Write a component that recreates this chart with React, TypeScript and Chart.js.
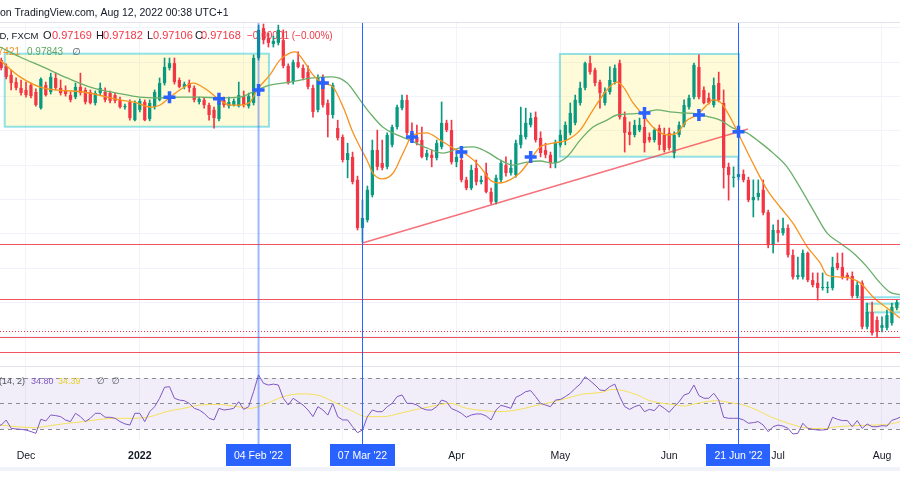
import React, { useEffect, useRef } from 'react';
import { Chart, registerables } from 'chart.js';

Chart.register(...registerables);

const FONT = '"Liberation Sans", Arial, "DejaVu Sans", sans-serif';
const UP = '#089981';
const DOWN = '#f23645';

// Daily weekday bars, bar 0 = 23 Nov 2021 ... bar 183 = 05 Aug 2022
const opens = [
  1.0511,1.0505,1.0488,1.0462,1.0441,1.0424,1.0418,1.0432,1.0412,1.0365,
  1.0432,1.0412,1.0453,1.0424,1.0418,1.0403,1.0397,1.0427,1.0418,1.0412,
  1.0380,1.0409,1.0412,1.0409,1.0403,1.0389,1.0368,1.0383,1.0330,1.0360,
  1.0383,1.0333,1.0368,1.0389,1.0438,1.0482,1.0496,1.0447,1.0427,1.0438,
  1.0424,1.0383,1.0389,1.0374,1.0360,1.0333,1.0389,1.0371,1.0374,1.0371,
  1.0400,1.0371,1.0380,1.0511,1.0598,1.0569,1.0552,1.0555,1.0563,1.0488,
  1.0441,1.0499,1.0482,1.0470,1.0424,1.0360,1.0447,1.0380,1.0345,1.0307,
  1.0281,1.0214,1.0223,1.0156,1.0016,1.0039,1.0112,1.0243,1.0205,1.0194,
  1.0258,1.0310,1.0365,1.0389,1.0293,1.0281,1.0272,1.0223,1.0229,1.0220,
  1.0252,1.0322,1.0301,1.0208,1.0214,1.0156,1.0132,1.0191,1.0150,1.0176,
  1.0121,1.0092,1.0156,1.0199,1.0176,1.0170,1.0258,1.0281,1.0316,1.0339,
  1.0278,1.0243,1.0229,1.0205,1.0258,1.0272,1.0293,1.0322,1.0380,1.0424,
  1.0496,1.0476,1.0441,1.0380,1.0412,1.0441,1.0496,1.0339,1.0296,1.0287,
  1.0301,1.0310,1.0281,1.0272,1.0307,1.0287,1.0293,1.0234,1.0287,1.0316,
  1.0368,1.0397,1.0485,1.0418,1.0395,1.0374,1.0438,1.0380,1.0194,1.0162,
  1.0164,1.0173,1.0156,1.0097,1.0106,1.0127,1.0062,0.9966,1.0010,1.0001,
  1.0016,0.9937,0.9873,0.9873,0.9943,0.9864,0.9856,0.9841,0.9841,0.9841,
  0.9914,0.9902,0.9879,0.9876,0.9818,0.9856,0.9728,0.9771,0.9748,0.9725,
  0.9725,0.9739,0.9783,0.9800,
];
const highs = [
  1.0520,1.0511,1.0494,1.0476,1.0453,1.0447,1.0441,1.0438,1.0421,1.0453,
  1.0441,1.0467,1.0467,1.0447,1.0430,1.0412,1.0438,1.0467,1.0424,1.0418,
  1.0415,1.0438,1.0424,1.0415,1.0409,1.0397,1.0377,1.0389,1.0386,1.0392,
  1.0389,1.0389,1.0418,1.0453,1.0511,1.0511,1.0511,1.0453,1.0441,1.0447,
  1.0430,1.0397,1.0395,1.0380,1.0368,1.0389,1.0397,1.0397,1.0392,1.0441,
  1.0415,1.0409,1.0520,1.0607,1.0610,1.0584,1.0575,1.0607,1.0593,1.0494,
  1.0505,1.0529,1.0491,1.0488,1.0432,1.0462,1.0462,1.0389,1.0438,1.0330,
  1.0287,1.0263,1.0237,1.0167,1.0097,1.0138,1.0272,1.0301,1.0272,1.0293,
  1.0316,1.0374,1.0403,1.0403,1.0322,1.0316,1.0310,1.0243,1.0243,1.0272,
  1.0383,1.0330,1.0330,1.0234,1.0243,1.0164,1.0199,1.0214,1.0167,1.0205,
  1.0132,1.0170,1.0214,1.0223,1.0214,1.0272,1.0368,1.0365,1.0351,1.0354,
  1.0296,1.0263,1.0237,1.0272,1.0301,1.0325,1.0380,1.0403,1.0441,1.0499,
  1.0517,1.0482,1.0447,1.0424,1.0485,1.0491,1.0505,1.0354,1.0325,1.0330,
  1.0336,1.0360,1.0293,1.0307,1.0316,1.0307,1.0307,1.0296,1.0325,1.0389,
  1.0403,1.0496,1.0520,1.0427,1.0409,1.0453,1.0470,1.0418,1.0205,1.0194,
  1.0220,1.0185,1.0164,1.0156,1.0156,1.0156,1.0068,1.0025,1.0039,1.0045,
  1.0025,0.9952,0.9931,0.9952,0.9946,0.9885,0.9885,0.9885,0.9859,0.9931,
  0.9943,0.9943,0.9885,0.9888,0.9859,0.9862,0.9797,0.9800,0.9757,0.9757,
  0.9777,0.9797,0.9806,0.9812,
];
const lows = [
  1.0499,1.0476,1.0450,1.0418,1.0418,1.0403,1.0397,1.0395,1.0371,1.0362,
  1.0400,1.0406,1.0418,1.0403,1.0400,1.0383,1.0392,1.0403,1.0377,1.0377,
  1.0374,1.0403,1.0383,1.0380,1.0380,1.0365,1.0362,1.0330,1.0328,1.0354,
  1.0328,1.0328,1.0362,1.0386,1.0432,1.0476,1.0435,1.0424,1.0421,1.0412,
  1.0383,1.0377,1.0365,1.0330,1.0307,1.0328,1.0368,1.0365,1.0371,1.0368,
  1.0368,1.0365,1.0374,1.0505,1.0552,1.0543,1.0543,1.0549,1.0482,1.0435,
  1.0435,1.0482,1.0447,1.0421,1.0339,1.0354,1.0368,1.0281,1.0336,1.0272,
  1.0208,1.0162,1.0144,1.0010,0.9975,1.0033,1.0106,1.0185,1.0185,1.0188,
  1.0252,1.0304,1.0360,1.0287,1.0269,1.0258,1.0220,1.0214,1.0194,1.0214,
  1.0246,1.0296,1.0202,1.0194,1.0150,1.0127,1.0127,1.0141,1.0144,1.0118,
  1.0086,1.0086,1.0150,1.0167,1.0170,1.0164,1.0249,1.0275,1.0310,1.0266,
  1.0223,1.0220,1.0191,1.0191,1.0252,1.0258,1.0287,1.0316,1.0374,1.0418,
  1.0464,1.0430,1.0365,1.0374,1.0406,1.0435,1.0333,1.0237,1.0258,1.0281,
  1.0296,1.0237,1.0266,1.0266,1.0243,1.0237,1.0243,1.0220,1.0281,1.0310,
  1.0362,1.0392,1.0392,1.0377,1.0377,1.0368,1.0383,1.0132,1.0097,1.0135,
  1.0156,1.0150,1.0092,1.0048,1.0097,1.0054,0.9958,0.9943,0.9975,0.9995,
  0.9931,0.9867,0.9867,0.9867,0.9859,0.9844,0.9806,0.9835,0.9827,0.9835,
  0.9894,0.9867,0.9864,0.9812,0.9812,0.9722,0.9722,0.9704,0.9698,0.9713,
  0.9719,0.9733,0.9777,0.9771,
];
const closes = [
  1.0505,1.0482,1.0456,1.0438,1.0424,1.0409,1.0403,1.0400,1.0374,1.0450,
  1.0403,1.0456,1.0424,1.0409,1.0406,1.0389,1.0427,1.0409,1.0383,1.0380,
  1.0409,1.0424,1.0389,1.0386,1.0386,1.0368,1.0371,1.0336,1.0380,1.0386,
  1.0330,1.0380,1.0412,1.0438,1.0485,1.0496,1.0441,1.0427,1.0435,1.0424,
  1.0389,1.0392,1.0374,1.0345,1.0336,1.0383,1.0374,1.0383,1.0386,1.0403,
  1.0374,1.0400,1.0511,1.0593,1.0563,1.0555,1.0561,1.0593,1.0488,1.0438,
  1.0499,1.0485,1.0453,1.0427,1.0354,1.0453,1.0374,1.0345,1.0432,1.0278,
  1.0214,1.0234,1.0150,1.0016,1.0045,1.0127,1.0243,1.0194,1.0191,1.0287,
  1.0310,1.0368,1.0389,1.0293,1.0272,1.0266,1.0223,1.0234,1.0220,1.0263,
  1.0322,1.0301,1.0208,1.0223,1.0156,1.0132,1.0185,1.0150,1.0156,1.0121,
  1.0092,1.0162,1.0205,1.0176,1.0191,1.0263,1.0287,1.0322,1.0336,1.0272,
  1.0234,1.0229,1.0205,1.0266,1.0287,1.0316,1.0351,1.0389,1.0424,1.0496,
  1.0470,1.0438,1.0409,1.0412,1.0447,1.0482,1.0339,1.0293,1.0287,1.0316,
  1.0316,1.0263,1.0272,1.0301,1.0258,1.0243,1.0249,1.0287,1.0316,1.0374,
  1.0395,1.0491,1.0397,1.0380,1.0380,1.0432,1.0389,1.0191,1.0170,1.0164,
  1.0173,1.0156,1.0097,1.0106,1.0118,1.0060,0.9966,1.0010,1.0001,1.0016,
  0.9937,0.9873,0.9879,0.9943,0.9864,0.9850,0.9841,0.9844,0.9844,0.9902,
  0.9899,0.9873,0.9873,0.9818,0.9850,0.9728,0.9771,0.9710,0.9713,0.9733,
  0.9762,0.9786,0.9800,0.9783,
];

const fastMaBars = [0.75,4.8,9.4,17.5,25,27.6,31.5,33.1,35.1,37.1,39.8,42.6,44.6,47.2,49.2,51.3,52.7,55.3,57.3,59.4,60.4,62,64,66,68,70.1,72.1,73.5,74.9,76.1,78,80.2,82.2,84.2,87,89.7,92.3,95.1,97.8,99.8,101.8,103.8,105.8,107.9,109.9,112.5,115.3,118,120.6,123.4,125.4,126.7,128.7,130.7,132.7,135.5,137.6,139.6,141.6,143.6,144.8,146.3,148.3,150.3,152.9,155.8,158.4,161,163.9,166.5,167.9,170.5,172.5,174.6,177.2,180,182.6];
const fastMaValues = [1.0505,1.0456,1.0424,1.0412,1.0389,1.0383,1.0368,1.0374,1.0397,1.0418,1.0438,1.0418,1.0395,1.0374,1.0374,1.0383,1.0418,1.0462,1.0505,1.0526,1.0529,1.0505,1.0462,1.0438,1.0427,1.0368,1.0293,1.0252,1.0214,1.0176,1.0159,1.0176,1.0234,1.0287,1.0293,1.0272,1.0249,1.0229,1.0194,1.0156,1.0147,1.0156,1.0176,1.0214,1.0252,1.0263,1.0272,1.0301,1.0360,1.0418,1.0441,1.0427,1.0380,1.0345,1.0310,1.0287,1.0293,1.0330,1.0345,1.0374,1.0389,1.0383,1.0339,1.0281,1.0205,1.0127,1.0077,1.0030,0.9961,0.9914,0.9879,0.9873,0.9870,0.9856,0.9815,0.9783,0.9754];
const slowMaBars = [0.75,4.8,9.4,14.3,19.5,24.4,29,33.1,37.1,41.2,45.2,49.2,52.7,55.3,59.4,64,68,70.9,73.5,75.5,78.1,81,83.6,87,90.3,93.7,96.3,99.2,101.8,104.4,107.3,109.9,112.5,115.3,118,120.6,123.4,125.4,128.1,130.7,133.5,136.1,138.8,141.6,144.2,146.3,148.9,151.7,154.3,157,159.8,162.4,165.1,167.9,170.5,173.2,176,178.6,180.6,182.6];
const slowMaValues = [1.0543,1.0514,1.0485,1.0453,1.0424,1.0409,1.0397,1.0395,1.0397,1.0397,1.0395,1.0397,1.0418,1.0432,1.0441,1.0453,1.0456,1.0438,1.0389,1.0351,1.0310,1.0287,1.0272,1.0249,1.0234,1.0249,1.0252,1.0237,1.0214,1.0199,1.0208,1.0211,1.0205,1.0223,1.0272,1.0310,1.0330,1.0345,1.0348,1.0351,1.0360,1.0354,1.0351,1.0348,1.0339,1.0330,1.0307,1.0293,1.0266,1.0234,1.0194,1.0135,1.0068,1.0001,0.9972,0.9943,0.9902,0.9856,0.9829,0.9821];

// RSI per bar and its moving average
const rsiValues = [
  33,33.1,37,30.5,30,29.7,29.2,28,26.6,37.6,
  36.3,41,40.5,39.7,37,35.8,42.3,39.7,35.8,38.4,
  42.3,42.3,39.2,39.2,38.4,35.8,34,33.1,42.3,42.3,
  35.8,43.6,47.5,54.1,62.7,63.2,54.1,52.7,52.2,50.1,
  46.2,44.9,42.3,38.4,37.1,46.2,44.9,45.4,46.2,51.4,
  45.4,47.5,59.3,72.4,65.8,64.5,65.2,64.5,54.1,48.8,
  54.1,51.4,48.8,44.9,39.7,47.5,44.9,40.9,50,39.7,
  37.1,37.1,31.8,27.1,29.2,39.7,44.9,43.6,43.6,47.5,
  50.1,55.4,56.7,50.1,50.1,48.8,46.2,44.9,44.9,47.5,
  52.7,51.4,46,44.4,42.3,39.2,41,41.8,41.8,40.2,
  37.1,44.9,48.6,47.5,46.2,54.8,56.7,59.3,60.1,55.4,
  50.1,48.8,47.5,52.7,53.2,55.4,58,61.9,65.2,71,
  67.9,64.5,60.6,60.1,63.2,65.2,55.4,47.5,45.4,47.5,
  48.8,43.6,45.4,44.4,48.8,46.2,43.1,47.5,51.4,56.7,
  58,64.5,56.2,54.1,54.1,58,52.7,39.2,38.4,38.4,
  38.4,37.1,34.5,35,35.8,33.1,27.9,31.8,33.1,32.3,
  30.5,26.1,26.6,34.5,30.5,29.7,29.2,29.2,29.7,39.2,
  37.6,36.6,36.6,31.8,36.6,30.5,33.9,31.8,31.8,32.6,
  32.3,36.8,38.1,39.9,
];
const rsiMaBars = [0.7,4.1,7.5,10.9,14.2,17.6,21,24.3,27.7,31.1,34.4,37.8,41.2,44.5,47.9,51.3,54.7,58,61.4,64.8,68.1,71.5,74.9,78.2,81.6,85,88.3,91.7,95.1,98.5,101.8,105.2,108.6,111.9,115.3,118.7,122,124.7,126.7,129.5,132.1,134.8,137.5,138.9,141.6,145.6,148.3,151,153.7,156.4,159.1,161.8,164.5,167.2,169.9,172.6,175.3,178,180.7,182.7];
const rsiMaValues = [33.1,31.8,31,32.6,34.4,35.8,37.6,38.4,38.4,39.7,43.6,46.2,48.8,49.3,48,46.2,50.1,55.4,57.5,56.7,51.4,44.9,39.7,39.7,42.3,45.4,48,50.1,46.2,44.4,43.6,44.9,48,50.7,54.1,57.5,58.5,61.1,60.1,56.7,52.2,50.1,48.8,48,50.1,52.2,50.7,48.8,44.9,39.7,35.8,32.4,30.5,30.3,31.8,32.4,32.9,33.1,33.9,35.8];
const rsiLevels = [70, 50, 30];

// Crossover markers
const crossBars = [35, 45, 53, 66, 84, 94, 108, 131, 142, 150];
const crossPrices = [1.0397, 1.0392, 1.0418, 1.0438, 1.0281, 1.0237, 1.0223, 1.0351, 1.0345, 1.0296];

// Axis ticks
const monthTickBars = [6, 29, 50, 70, 93, 114, 136, 158, 179];
const monthTickLabels = ['Dec', '2022', 'Feb', 'Mar', 'Apr', 'May', 'Jun', 'Jul', 'Aug'];
const priceGridLevels = [0.97, 0.98, 0.99, 1.0, 1.01, 1.02, 1.03, 1.04, 1.05, 1.06];

// Drawings
const eventBars = [53, 74, 150];
const eventLabels = ["04 Feb '22", "07 Mar '22", "21 Jun '22"];
const levelPrices = [0.99692, 0.9809, 0.96983, 0.96546];
const lastPrice = 0.97168;
const trendBars = [74, 151.9];
const trendPrices = [0.99721, 1.03042];
const boxFromBars = [1.7, 113.9, 175.8];
const boxToBars = [55.1, 150.1, 200];
const boxTopPrices = [1.05236, 1.05227, 0.97953];
const boxBottomPrices = [1.03109, 1.02235, 0.9770];
const segmentFromBars = [173.9];
const segmentPrices = [0.9814];

const PRICE_PANE_BOTTOM = 366;

function hLine(ctx: CanvasRenderingContext2D, x0: number, x1: number, y: number) {
  ctx.beginPath();
  ctx.moveTo(x0, y);
  ctx.lineTo(x1, y);
  ctx.stroke();
}

function txt(ctx: CanvasRenderingContext2D, s: string, x: number, y: number, color: string, align: CanvasTextAlign = 'left') {
  ctx.fillStyle = color;
  ctx.textAlign = align;
  ctx.fillText(s, x, y);
}

const overlayPlugin = {
  id: 'overlay',
  beforeDatasetsDraw(chart: any) {
    const { ctx, chartArea, scales } = chart;
    const xs = scales.x, ys = scales.y, yr = scales.y2;
    const W = chart.width;
    ctx.save();
    ctx.lineWidth = 1;
    // price grid
    ctx.strokeStyle = '#f0f3fa';
    priceGridLevels.forEach((v) => {
      const py = Math.round(ys.getPixelForValue(v)) + 0.5;
      if (py > chartArea.top && py < PRICE_PANE_BOTTOM) hLine(ctx, 0, W, py);
    });
    // RSI band
    const t = yr.getPixelForValue(rsiLevels[0]);
    const b = yr.getPixelForValue(rsiLevels[2]);
    ctx.fillStyle = 'rgba(126,87,194,0.1)';
    ctx.fillRect(0, t, W, b - t);
    ctx.strokeStyle = '#8a8d96';
    ctx.setLineDash([4, 4]);
    rsiLevels.forEach((v) => hLine(ctx, 0, W, Math.round(yr.getPixelForValue(v)) + 0.5));
    ctx.setLineDash([]);
    // separators
    ctx.strokeStyle = '#e0e3eb';
    hLine(ctx, 0, W, chartArea.top - 0.5);
    hLine(ctx, 0, W, PRICE_PANE_BOTTOM + 0.5);
    ctx.fillStyle = '#f0f3fa';
    ctx.fillRect(0, 467, W, 4);
    // rectangles
    boxFromBars.forEach((fb, i) => {
      const x0 = xs.getPixelForValue(fb);
      const x1 = xs.getPixelForValue(boxToBars[i]);
      const y0 = ys.getPixelForValue(boxTopPrices[i]);
      const y1 = ys.getPixelForValue(boxBottomPrices[i]);
      ctx.fillStyle = 'rgba(255,235,59,0.2)';
      ctx.fillRect(x0, y0, x1 - x0, y1 - y0);
      ctx.strokeStyle = 'rgba(38,198,218,0.5)';
      ctx.lineWidth = 2;
      ctx.strokeRect(x0, y0, x1 - x0, y1 - y0);
    });
    segmentFromBars.forEach((fb, i) => {
      ctx.strokeStyle = 'rgba(38,198,218,0.5)';
      ctx.lineWidth = 2;
      hLine(ctx, xs.getPixelForValue(fb), W, ys.getPixelForValue(segmentPrices[i]));
    });
    // legends
    ctx.textBaseline = 'middle';
    const dark = '#131722';
    const red = '#f23645';
    ctx.font = `10.5px ${FONT}`;
    txt(ctx, 'Published on TradingView.com, Aug 12, 2022 00:38 UTC+1', -ctx.measureText('Published ').width, 13, dark);
    ctx.font = `9.5px ${FONT}`;
    txt(ctx, 'EURCHF, 1D, FXCM', 38.5, 36, dark, 'right');
    ctx.font = `11px ${FONT}`;
    txt(ctx, 'O', 43, 36, dark);
    txt(ctx, '0.97169', 52, 36, red);
    txt(ctx, 'H', 96, 36, dark);
    txt(ctx, '0.97182', 103, 36, red);
    txt(ctx, 'L', 147, 36, dark);
    txt(ctx, '0.97106', 153, 36, red);
    txt(ctx, 'C', 195, 36, dark);
    txt(ctx, '0.97168', 201, 36, red);
    ctx.font = `10px ${FONT}`;
    txt(ctx, '\u22120.00001 (\u22120.00%)', 247, 36, red);
    txt(ctx, '0.97421', 20, 52, '#f7931e', 'right');
    txt(ctx, '0.97843', 27, 52, '#5fa55f');
    txt(ctx, '\u2205', 72, 52, '#50535e');
    ctx.font = `9px ${FONT}`;
    txt(ctx, 'RSI (14, 2)', -1 - ctx.measureText('RSI ').width, 382, '#50535e');
    txt(ctx, '34.80', 31, 382, '#7e57c2');
    txt(ctx, '34.39', 58, 382, '#e9cf2c');
    txt(ctx, '\u2205', 97, 382, '#50535e');
    txt(ctx, '\u2205', 112, 382, '#50535e');
    ctx.restore();
  },
  afterDatasetsDraw(chart: any) {
    const { ctx, chartArea, scales } = chart;
    const xs = scales.x, ys = scales.y;
    const W = chart.width;
    ctx.save();
    ctx.lineWidth = 1;
    ctx.strokeStyle = 'rgba(242,54,69,0.85)';
    levelPrices.forEach((p) => hLine(ctx, 0, W, Math.round(ys.getPixelForValue(p)) + 0.5));
    ctx.setLineDash([1, 2]);
    ctx.strokeStyle = '#f23645';
    hLine(ctx, 0, W, Math.round(ys.getPixelForValue(lastPrice)) + 0.5);
    ctx.setLineDash([]);
    // event lines + labels
    ctx.font = `10.5px ${FONT}`;
    ctx.textBaseline = 'middle';
    eventBars.forEach((bar, i) => {
      const px = xs.getPixelForValue(bar);
      if (i === 0) {
        ctx.strokeStyle = 'rgba(41,98,255,0.45)';
        ctx.lineWidth = 2;
      } else {
        ctx.strokeStyle = '#2962ff';
        ctx.lineWidth = 1;
      }
      const lx = i === 0 ? px : Math.round(px) + 0.5;
      ctx.beginPath();
      ctx.moveTo(lx, chartArea.top);
      ctx.lineTo(lx, 444);
      ctx.stroke();
      const w = ctx.measureText(eventLabels[i]).width + 16;
      ctx.fillStyle = '#2962ff';
      ctx.fillRect(Math.round(px - w / 2), 444, Math.round(w), 22);
      txt(ctx, eventLabels[i], px, 456, '#ffffff', 'center');
    });
    ctx.restore();
  },
};

export default function App() {
  const ref = useRef<HTMLCanvasElement | null>(null);

  useEffect(() => {
    if (!ref.current) return;
    const colors = opens.map((o, k) => (closes[k] >= o ? UP : DOWN));
    const wickData = opens.map((_, k) => ({ x: k, y: [lows[k], highs[k]] }));
    const bodyData = opens.map((o, k) => ({ x: k, y: [Math.min(o, closes[k]), Math.max(o, closes[k])] }));

    const chart = new Chart(ref.current, {
      type: 'bar',
      data: {
        datasets: [
          {
            type: 'scatter',
            data: crossBars.map((b, i) => ({ x: b, y: crossPrices[i] })),
            pointStyle: 'cross',
            pointRadius: 6,
            pointBorderWidth: 3.5,
            borderColor: '#2962ff',
            backgroundColor: '#2962ff',
            xAxisID: 'x',
            yAxisID: 'y',
            order: 0,
          } as any,
          {
            type: 'line',
            data: trendBars.map((b, i) => ({ x: b, y: trendPrices[i] })),
            borderColor: 'rgba(242,54,69,0.7)',
            borderWidth: 1.5,
            pointRadius: 0,
            yAxisID: 'y',
            order: 1,
          },
          {
            type: 'line',
            data: fastMaBars.map((b, i) => ({ x: b, y: fastMaValues[i] })),
            borderColor: '#f7931e',
            borderWidth: 1.3,
            pointRadius: 0,
            cubicInterpolationMode: 'monotone',
            yAxisID: 'y',
            order: 2,
          },
          {
            type: 'line',
            data: slowMaBars.map((b, i) => ({ x: b, y: slowMaValues[i] })),
            borderColor: '#6aaf6a',
            borderWidth: 1.3,
            pointRadius: 0,
            cubicInterpolationMode: 'monotone',
            yAxisID: 'y',
            order: 3,
          },
          {
            type: 'bar',
            data: bodyData,
            backgroundColor: colors,
            grouped: false,
            barPercentage: 0.66,
            categoryPercentage: 1,
            minBarLength: 1,
            yAxisID: 'y',
            order: 4,
          } as any,
          {
            type: 'bar',
            data: wickData,
            backgroundColor: colors,
            grouped: false,
            barPercentage: 1,
            categoryPercentage: 1,
            maxBarThickness: 1,
            yAxisID: 'y',
            order: 5,
          } as any,
          {
            type: 'line',
            data: rsiValues.map((v, k) => ({ x: k, y: v })),
            borderColor: '#7e57c2',
            borderWidth: 1,
            pointRadius: 0,
            yAxisID: 'y2',
            order: 6,
          },
          {
            type: 'line',
            data: rsiMaBars.map((b, i) => ({ x: b, y: rsiMaValues[i] })),
            borderColor: '#f5e05a',
            borderWidth: 1,
            pointRadius: 0,
            cubicInterpolationMode: 'monotone',
            yAxisID: 'y2',
            order: 7,
          },
        ],
      },
      options: {
        animation: false,
        responsive: false,
        devicePixelRatio: 1,
        layout: { autoPadding: false, padding: { top: 23, left: 0, right: 0, bottom: 0 } },
        plugins: { legend: { display: false }, tooltip: { enabled: false } },
        scales: {
          x: {
            type: 'linear',
            min: 0.746,
            max: 182.64,
            offset: false,
            grid: { color: '#f0f3fa', drawTicks: false, offset: false },
            border: { display: false },
            afterBuildTicks: (s: any) => {
              s.ticks = monthTickBars.map((v) => ({ value: v }));
            },
            afterFit: (s: any) => {
              s.height = 60;
              s.paddingLeft = 0;
              s.paddingRight = 0;
            },
            ticks: {
              autoSkip: false,
              maxRotation: 0,
              padding: 10,
              color: '#131722',
              font: (c: any) => ({
                family: FONT,
                size: 10.5,
                weight: c.tick && c.tick.label === '2022' ? 'bold' : 'normal',
              }),
              callback: (v: any) => {
                const i = monthTickBars.indexOf(Number(v));
                return i >= 0 ? monthTickLabels[i] : '';
              },
            },
          },
          y: { type: 'linear', display: false, min: 0.93983, max: 1.0613 },
          y2: { type: 'linear', display: false, min: 21.37, max: 348.43 },
        },
      } as any,
      plugins: [overlayPlugin],
    });
    return () => chart.destroy();
  }, []);

  return (
    <div style={{ position: 'absolute', left: 0, top: 0, width: 900, height: 500, background: '#ffffff' }}>
      <canvas ref={ref} width={900} height={500} style={{ display: 'block', width: 900, height: 500 }} />
    </div>
  );
}
